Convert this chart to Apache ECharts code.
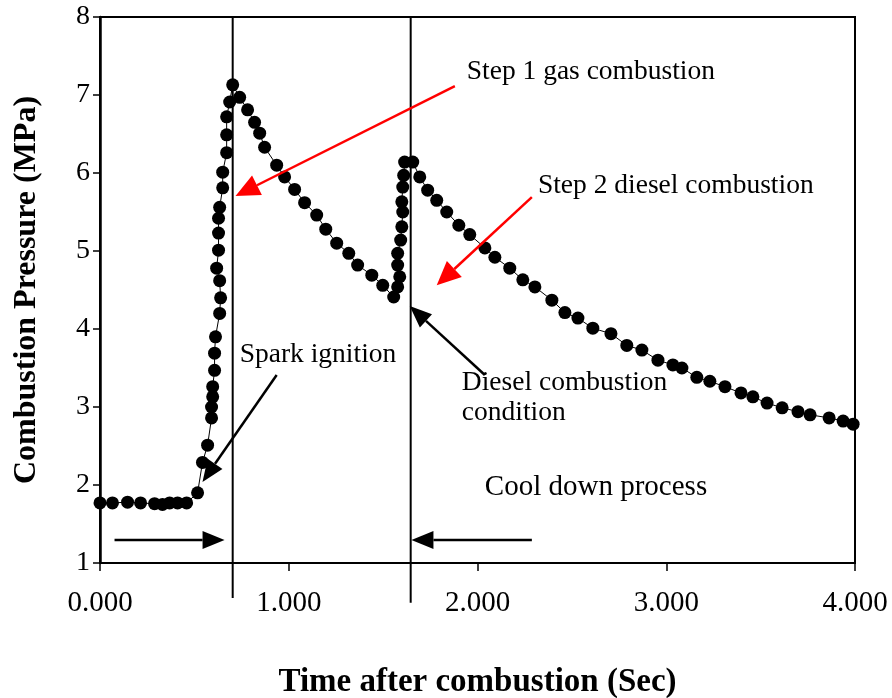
<!DOCTYPE html>
<html>
<head>
<meta charset="utf-8">
<script src="https://cdn.jsdelivr.net/npm/echarts@6/dist/echarts.min.js"></script>
<style>
  html, body { margin: 0; padding: 0; background: #fff; }
  #chart { width: 892px; height: 698px; }
</style>
</head>
<body>
<div id="chart"></div>
<script>
// time after combustion (s) and pressure (MPa)
var timeSec = [
  0.000, 0.066, 0.146, 0.215, 0.289, 0.331, 0.369, 0.411, 0.459,
  0.517, 0.543, 0.570, 0.591, 0.591, 0.597, 0.597, 0.607, 0.607, 0.612,
  0.634, 0.639, 0.634, 0.618, 0.628, 0.628, 0.628, 0.634, 0.650, 0.650,
  0.671, 0.671, 0.671, 0.687, 0.703,
  0.740, 0.782, 0.819, 0.846, 0.872, 0.936, 0.978, 1.031, 1.084, 1.148,
  1.196, 1.254, 1.318, 1.365, 1.440, 1.498, 1.556,
  1.577, 1.588, 1.577, 1.577, 1.593, 1.599, 1.604, 1.599, 1.604, 1.609,
  1.614, 1.657,
  1.694, 1.736, 1.784, 1.837, 1.901, 1.959, 2.039, 2.092, 2.171, 2.240,
  2.304, 2.394, 2.463, 2.532, 2.611, 2.707, 2.791, 2.871, 2.956, 3.035,
  3.083, 3.162, 3.231, 3.311, 3.396, 3.459, 3.534, 3.614, 3.698, 3.762,
  3.863, 3.937, 3.990
];
var pressure = [
  1.77, 1.77, 1.78, 1.77, 1.76, 1.75, 1.77, 1.77, 1.77,
  1.90, 2.29, 2.51, 2.86, 3.00, 3.13, 3.26, 3.47, 3.69, 3.90,
  4.20, 4.40, 4.62, 4.78, 5.01, 5.23, 5.42, 5.56, 5.81, 6.01,
  6.26, 6.49, 6.72, 6.91, 7.13,
  6.97, 6.81, 6.65, 6.51, 6.33, 6.10, 5.95, 5.79, 5.62, 5.46,
  5.28, 5.10, 4.97, 4.82, 4.69, 4.56, 4.41,
  4.54, 4.67, 4.82, 4.97, 5.14, 5.31, 5.50, 5.63, 5.82, 5.97,
  6.14, 6.14,
  5.95, 5.78, 5.65, 5.50, 5.33, 5.21, 5.04, 4.92, 4.78, 4.63,
  4.54, 4.37, 4.21, 4.14, 4.01, 3.94, 3.79, 3.73, 3.60, 3.54,
  3.50, 3.38, 3.33, 3.26, 3.18, 3.13, 3.05, 2.99, 2.94, 2.90,
  2.86, 2.82, 2.78
];

var xTicks = [0, 1, 2, 3, 4];
var yTicks = [1, 2, 3, 4, 5, 6, 7, 8];

// vertical marker lines: [x, yTop, yBottom]
var markerLines = [[0.703, 8, 0.55], [1.646, 8, 0.49]];

// arrows: [fromX, fromY, tipX, tipY, colour]
var arrows = [
  [1.880, 7.115, 0.718, 5.705, '#ff0000'],
  [2.288, 5.690, 1.784, 4.560, '#ff0000'],
  [0.936, 3.410, 0.543, 2.040, '#000000'],
  [2.039, 3.410, 1.641, 4.295, '#000000'],
  [0.077, 1.295, 0.660, 1.295, '#000000'],
  [2.288, 1.295, 1.650, 1.295, '#000000']
];

// notes: [text, x (left edge), y (middle), font size]
var notes = [
  ['Step 1 gas combustion', 1.943, 7.295, 27.5],
  ['Step 2 diesel combustion', 2.320, 5.833, 27.5],
  ['Spark ignition', 0.740, 3.667, 27.5],
  ['Diesel combustion', 1.917, 3.308, 27.5],
  ['condition', 1.917, 2.923, 27.5],
  ['Cool down process', 2.039, 1.974, 29]
];

var serif = '"Liberation Serif", "Times New Roman", serif';

var myChart = echarts.init(document.getElementById('chart'));

var points = timeSec.map(function (t, i) { return [t, pressure[i]]; });

var options = {
  animation: false,
  backgroundColor: '#fff',
  grid: {
    left: 100, right: 37, top: 17, bottom: 135,
    outerBoundsMode: 'none',
    containLabel: false,
    show: true, borderColor: '#000', borderWidth: 2
  },
  xAxis: {
    type: 'value',
    min: xTicks[0], max: xTicks[xTicks.length - 1], interval: 1,
    name: 'Time after combustion (Sec)',
    nameLocation: 'middle',
    nameGap: 103,
    nameTextStyle: { fontFamily: serif, fontWeight: 'bold', fontSize: 33, color: '#000' },
    axisLine: { onZero: false, lineStyle: { color: '#000', width: 2 } },
    axisTick: { show: true, length: 8, lineStyle: { color: '#000', width: 1.5 } },
    axisLabel: {
      margin: 26, fontFamily: serif, fontSize: 29, color: '#000',
      formatter: function (v) { return v.toFixed(3); }
    },
    splitLine: { show: false }
  },
  yAxis: {
    type: 'value',
    min: yTicks[0], max: yTicks[yTicks.length - 1], interval: 1,
    name: 'Combustion Pressure (MPa)',
    nameLocation: 'middle',
    nameGap: 57,
    nameTextStyle: { fontFamily: serif, fontWeight: 'bold', fontSize: 32, color: '#000' },
    axisLine: { onZero: false, lineStyle: { color: '#000', width: 2.5 } },
    axisTick: { show: true, length: 7, lineStyle: { color: '#000', width: 1.5 } },
    axisLabel: { margin: 10, fontFamily: serif, fontSize: 28, color: '#000' },
    splitLine: { show: false }
  },
  series: [{
    type: 'line',
    data: points,
    symbol: 'circle',
    symbolSize: 13,
    clip: false,
    itemStyle: { color: '#000' },
    lineStyle: { color: '#000', width: 1 }
  }]
};

myChart.setOption(options);

// annotations, positioned through the chart's own scales
function px(x, y) { return myChart.convertToPixel({ gridIndex: 0 }, [x, y]); }

var graphics = [];

markerLines.forEach(function (m) {
  var a = px(m[0], m[1]), b = px(m[0], m[2]);
  graphics.push({
    type: 'line', z: 10,
    shape: { x1: a[0], y1: a[1], x2: b[0], y2: b[1] },
    style: { stroke: '#000', lineWidth: 2 }
  });
});

arrows.forEach(function (ar) {
  var s = px(ar[0], ar[1]), e = px(ar[2], ar[3]);
  var dx = e[0] - s[0], dy = e[1] - s[1];
  var len = Math.sqrt(dx * dx + dy * dy);
  var ux = dx / len, uy = dy / len;
  var red = ar[4] !== '#000000';
  var headLen = red ? 24 : 22, headW = red ? 11 : 9;
  var bx = e[0] - ux * headLen, by = e[1] - uy * headLen;
  graphics.push({
    type: 'line', z: 11,
    shape: { x1: s[0], y1: s[1], x2: bx, y2: by },
    style: { stroke: ar[4], lineWidth: 2.5 }
  });
  graphics.push({
    type: 'polygon', z: 11,
    shape: { points: [[e[0], e[1]], [bx - uy * headW, by + ux * headW], [bx + uy * headW, by - ux * headW]] },
    style: { fill: ar[4] }
  });
});

notes.forEach(function (n) {
  var p = px(n[1], n[2]);
  graphics.push({
    type: 'text', z: 12,
    x: p[0], y: p[1],
    style: {
      text: n[0], fontFamily: serif, fontSize: n[3], fill: '#000',
      textAlign: 'left', textVerticalAlign: 'middle'
    }
  });
});

myChart.setOption({ graphic: graphics });
</script>
</body>
</html>
